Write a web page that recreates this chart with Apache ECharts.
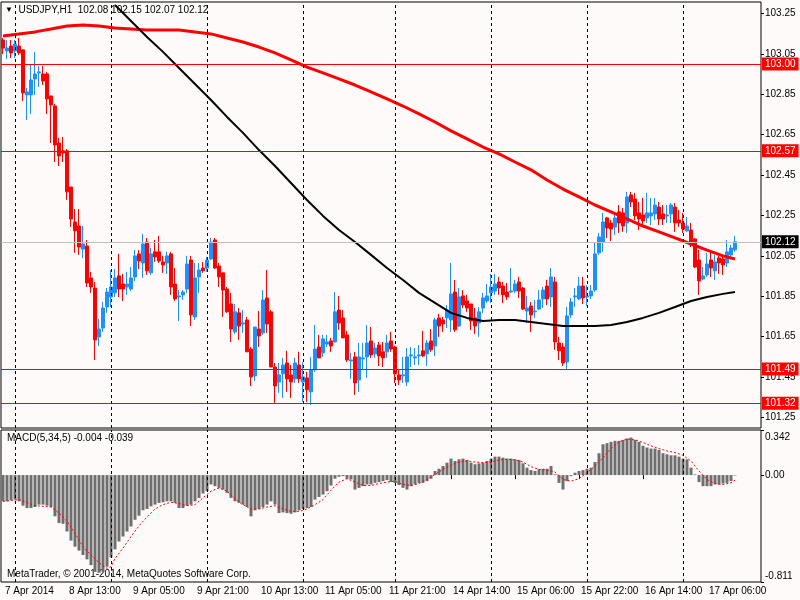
<!DOCTYPE html>
<html>
<head>
<meta charset="utf-8">
<title>USDJPY,H1</title>
<script src="https://cdn.jsdelivr.net/npm/echarts@6/dist/echarts.min.js"></script>
<style>
  html, body { margin: 0; padding: 0; background: #fffafa; }
  #chart { width: 800px; height: 600px; }
</style>
</head>
<body>
<div id="chart"></div>
<script>
// ==============================
// data
// ==============================

// hourly bars: 7 Apr 21:00 .. 17 Apr 13:00, plus empty slots for the chart shift
const barTimes = [];
(function () {
  const pad = n => (n < 10 ? '0' : '') + n;
  let day = 7, hour = 21;
  for (let i = 0; i < 190; i++) {
    barTimes.push(day + ' Apr ' + pad(hour) + ':00');
    hour++;
    if (day === 11 && hour === 23) { day = 14; hour = 0; }   // weekend gap
    else if (hour === 24) { hour = 0; day++; }
  }
})();

const timeTickBars = [0, 16, 32, 48, 64, 80, 96, 112, 128, 144, 160, 176];
const timeTickLabels = ['7 Apr 2014', '8 Apr 13:00', '9 Apr 05:00', '9 Apr 21:00', '10 Apr 13:00',
  '11 Apr 05:00', '11 Apr 21:00', '14 Apr 14:00', '15 Apr 06:00', '15 Apr 22:00', '16 Apr 14:00', '17 Apr 06:00'];
const dayStarts = ['8 Apr 00:00', '9 Apr 00:00', '10 Apr 00:00', '11 Apr 00:00',
  '14 Apr 00:00', '15 Apr 00:00', '16 Apr 00:00', '17 Apr 00:00'];

const priceTicks = [103.25, 103.05, 102.85, 102.65, 102.45, 102.25, 102.05, 101.85, 101.65, 101.45, 101.25];
const levelLines = [103.00, 102.57, 101.49, 101.32];
const lastPrice = 102.12;
const macdTicks = [0.342, 0, -0.811];

// [open, close, low, high]
const ohlc = [
  [103.119,103.079,103.050,103.129],[103.065,103.079,103.025,103.119],[103.089,103.055,103.030,103.119],
  [103.065,103.099,103.030,103.119],[103.089,103.055,103.045,103.129],[103.070,102.857,102.817,103.070],
  [102.847,102.862,102.723,102.881],[102.847,102.921,102.753,103.000],[102.926,102.951,102.847,103.060],
  [102.956,102.961,102.886,102.990],
  [102.951,102.916,102.896,102.990],[102.951,102.827,102.753,102.961],[102.842,102.797,102.609,102.842],
  [102.792,102.599,102.515,102.802],[102.609,102.545,102.495,102.634],[102.570,102.560,102.515,102.639],
  [102.570,102.367,102.327,102.579],[102.391,102.233,102.193,102.391],[102.218,102.174,102.065,102.282],
  [102.198,102.094,102.055,102.282],
  [102.084,102.109,102.040,102.198],[102.099,101.916,101.896,102.129],[101.941,101.896,101.867,101.971],
  [101.891,101.634,101.535,101.921],[101.649,101.688,101.604,101.738],[101.693,101.792,101.674,101.822],
  [101.797,101.871,101.768,101.891],[101.847,101.896,101.797,101.980],[101.867,101.941,101.847,101.985],
  [101.951,101.886,101.847,102.060],
  [101.911,101.886,101.827,101.961],[101.896,101.911,101.857,101.971],[101.886,101.941,101.876,101.995],
  [101.946,102.050,101.926,102.079],[102.060,102.025,101.985,102.079],[102.015,102.109,101.941,102.159],
  [102.119,101.976,101.956,102.139],[101.966,102.060,101.956,102.089],[102.070,102.045,102.020,102.129],
  [102.070,102.025,102.015,102.149],
  [102.020,102.005,101.966,102.050],[102.015,102.050,101.961,102.070],[102.060,101.896,101.857,102.070],
  [101.911,101.837,101.827,101.990],[101.847,101.852,101.728,101.881],[101.857,101.871,101.832,101.881],
  [101.886,102.010,101.867,102.050],[102.030,101.758,101.703,102.050],[101.748,101.941,101.733,102.015],
  [101.946,101.980,101.867,102.015],
  [101.990,101.976,101.966,102.020],[101.990,102.030,101.971,102.045],[102.035,102.119,102.030,102.139],
  [102.129,101.990,101.985,102.139],[102.000,101.946,101.896,102.015],[101.966,101.881,101.748,101.966],
  [101.886,101.773,101.768,101.896],[101.812,101.688,101.624,101.867],[101.674,101.773,101.664,101.812],
  [101.768,101.703,101.634,101.792],
  [101.713,101.718,101.669,101.782],[101.733,101.575,101.575,101.748],[101.589,101.451,101.406,101.599],
  [101.456,101.698,101.431,101.698],[101.688,101.654,101.599,101.777],[101.669,101.832,101.659,101.881],
  [101.842,101.713,101.669,101.980],[101.773,101.500,101.500,101.782],[101.500,101.406,101.322,101.520],
  [101.426,101.461,101.372,101.520],
  [101.466,101.510,101.347,101.545],[101.520,101.441,101.377,101.580],[101.461,101.426,101.347,101.510],
  [101.441,101.520,101.421,101.545],[101.510,101.441,101.421,101.575],[101.426,101.451,101.327,101.525],
  [101.446,101.387,101.327,101.476],[101.377,101.486,101.312,101.550],[101.486,101.589,101.476,101.708],
  [101.599,101.545,101.545,101.659],
  [101.570,101.639,101.550,101.659],[101.614,101.624,101.599,101.659],[101.629,101.604,101.575,101.644],
  [101.624,101.773,101.624,101.871],[101.782,101.718,101.684,101.852],[101.743,101.644,101.644,101.782],
  [101.659,101.535,101.525,101.679],[101.530,101.535,101.441,101.570],[101.550,101.421,101.362,101.575],
  [101.436,101.550,101.377,101.619],
  [101.540,101.545,101.486,101.619],[101.550,101.619,101.446,101.708],[101.629,101.560,101.545,101.698],
  [101.565,101.594,101.545,101.619],[101.609,101.555,101.505,101.624],[101.575,101.545,101.500,101.624],
  [101.575,101.619,101.545,101.659],[101.629,101.589,101.575,101.674],[101.599,101.466,101.421,101.604],
  [101.461,101.436,101.411,101.486],
  [101.456,101.461,101.421,101.550],[101.426,101.550,101.406,101.594],[101.555,101.560,101.500,101.599],
  [101.545,101.550,101.510,101.594],[101.555,101.560,101.510,101.609],[101.580,101.555,101.550,101.679],
  [101.565,101.619,101.505,101.634],[101.629,101.585,101.575,101.688],[101.604,101.733,101.555,101.743],
  [101.743,101.703,101.649,101.763],
  [101.733,101.713,101.674,101.748],[101.743,101.782,101.693,101.807],[101.733,101.862,101.674,102.015],
  [101.871,101.684,101.674,101.931],[101.703,101.847,101.698,101.891],[101.852,101.807,101.792,101.881],
  [101.827,101.792,101.773,101.857],[101.812,101.728,101.684,101.812],[101.743,101.703,101.664,101.792],
  [101.718,101.773,101.649,101.797],
  [101.792,101.842,101.768,101.867],[101.827,101.852,101.817,101.911],[101.867,101.896,101.817,101.961],
  [101.876,101.911,101.857,101.961],[101.921,101.891,101.857,101.946],[101.901,101.857,101.817,101.921],
  [101.871,101.847,101.832,101.916],[101.871,101.876,101.867,101.990],[101.876,101.911,101.867,101.931],
  [101.921,101.876,101.842,101.946],
  [101.891,101.787,101.782,101.896],[101.777,101.792,101.718,101.852],[101.802,101.758,101.674,101.822],
  [101.773,101.777,101.743,101.832],[101.787,101.832,101.782,101.881],[101.837,101.881,101.792,101.896],
  [101.901,101.837,101.807,101.931],[101.847,101.946,101.797,101.990],[101.921,101.624,101.585,101.946],
  [101.619,101.580,101.535,101.649],
  [101.599,101.520,101.505,101.619],[101.525,101.753,101.486,101.797],[101.758,101.822,101.743,101.842],
  [101.847,101.852,101.797,101.891],[101.837,101.901,101.832,101.946],[101.901,101.842,101.812,101.946],
  [101.847,101.852,101.802,101.906],[101.852,101.876,101.837,101.906],[101.881,102.060,101.871,102.119],
  [102.065,102.144,102.055,102.164],
  [102.119,102.218,102.070,102.263],[102.238,102.188,102.139,102.243],[102.213,102.183,102.124,102.228],
  [102.193,102.238,102.154,102.263],[102.268,102.213,102.164,102.302],[102.263,102.198,102.169,102.287],
  [102.213,102.342,102.164,102.367],[102.352,102.317,102.292,102.367],[102.332,102.248,102.228,102.362],
  [102.263,102.233,102.178,102.317],
  [102.253,102.223,102.193,102.337],[102.238,102.263,102.213,102.362],[102.248,102.263,102.203,102.337],
  [102.258,102.302,102.228,102.337],[102.292,102.233,102.203,102.317],[102.258,102.233,102.203,102.302],
  [102.248,102.253,102.213,102.302],[102.258,102.302,102.213,102.312],[102.292,102.213,102.169,102.312],
  [102.228,102.213,102.193,102.277],
  [102.213,102.183,102.164,102.263],[102.174,102.198,102.169,102.243],[102.178,102.104,102.094,102.213],
  [102.134,101.995,101.990,102.139],[102.030,101.926,101.857,102.079],[101.936,101.951,101.931,101.995],
  [101.956,102.010,101.946,102.065],[102.030,101.990,101.946,102.070],[101.976,102.020,101.931,102.055],
  [102.040,102.015,101.961,102.050],
  [102.035,102.005,101.956,102.055],[102.015,102.070,101.995,102.129],[102.055,102.089,102.030,102.104],
  [102.080,102.120,102.070,102.150]
];

// moving averages, [bar, value]
const maRed = [
  [0,103.139],[4,103.149],[8,103.159],[12,103.173],[16,103.188],[20,103.193],[24,103.188],[28,103.178],
  [32,103.173],[36,103.168],[40,103.168],[44,103.168],[48,103.159],[52,103.149],[56,103.129],[60,103.109],
  [64,103.084],[68,103.055],[72,103.020],[76,102.985],[80,102.956],[84,102.926],[88,102.896],[92,102.862],
  [96,102.827],[100,102.792],[104,102.753],[108,102.713],[112,102.669],[116,102.629],[120,102.589],
  [124,102.555],[128,102.515],[132,102.476],[136,102.426],[140,102.381],[144,102.342],[148,102.302],
  [152,102.268],[156,102.233],[160,102.198],[164,102.169],[168,102.139],[172,102.109],[176,102.079],
  [180,102.050],[183,102.035]
];
const maBlack = [
  [28,103.292],[32,103.213],[36,103.134],[40,103.060],[44,102.980],[48,102.901],[52,102.822],[56,102.738],
  [60,102.659],[64,102.574],[68,102.495],[72,102.411],[76,102.327],[80,102.248],[84,102.178],[88,102.119],
  [92,102.055],[96,101.990],[100,101.931],[104,101.867],[108,101.817],[112,101.768],[116,101.743],
  [120,101.728],[124,101.733],[128,101.733],[132,101.723],[136,101.713],[140,101.703],[144,101.703],
  [148,101.703],[152,101.708],[156,101.723],[160,101.743],[164,101.768],[168,101.797],[172,101.827],
  [176,101.847],[180,101.862],[183,101.871]
];

// MACD(5,34,5) histogram, one per bar
const macdHist = [
  -0.199,-0.199,-0.191,-0.186,-0.199,-0.232,-0.250,-0.250,-0.242,-0.224,
  -0.224,-0.232,-0.242,-0.313,-0.364,-0.369,-0.428,-0.497,-0.543,-0.573,
  -0.606,-0.639,-0.683,-0.734,-0.741,-0.734,-0.695,-0.624,-0.563,-0.504,
  -0.466,-0.428,-0.390,-0.339,-0.308,-0.267,-0.257,-0.237,-0.224,-0.211,
  -0.206,-0.199,-0.199,-0.211,-0.250,-0.250,-0.232,-0.224,-0.199,-0.173,
  -0.140,-0.122,-0.071,-0.084,-0.097,-0.110,-0.135,-0.173,-0.199,-0.211,
  -0.224,-0.242,-0.313,-0.267,-0.257,-0.242,-0.224,-0.199,-0.224,-0.288,
  -0.283,-0.288,-0.293,-0.283,-0.267,-0.257,-0.250,-0.242,-0.186,-0.166,
  -0.148,-0.122,-0.079,-0.028,-0.013,-0.008,-0.028,-0.033,-0.110,-0.097,
  -0.084,-0.071,-0.071,-0.059,-0.053,-0.046,-0.038,-0.053,-0.060,-0.075,
  -0.097,-0.110,-0.084,-0.071,-0.059,-0.059,-0.046,-0.028,0.031,0.048,
  0.069,0.094,0.125,0.107,0.120,0.125,0.115,0.094,0.082,0.089,
  0.094,0.107,0.125,0.140,0.140,0.132,0.125,0.125,0.120,0.115,
  0.089,0.056,0.038,0.031,0.043,0.048,0.048,0.069,0.005,-0.059,
  -0.110,-0.046,-0.008,0.018,0.031,0.038,0.048,0.056,0.099,0.166,
  0.234,0.242,0.252,0.260,0.260,0.267,0.278,0.285,0.267,0.252,
  0.222,0.209,0.201,0.201,0.191,0.166,0.158,0.150,0.150,0.140,
  0.125,0.120,0.056,0.005,-0.053,-0.084,-0.084,-0.084,-0.071,-0.071,
  -0.064,-0.059,-0.046,-0.004
];
// signal line, [bar, value]
const macdSignal = [
  [0,-0.199],[4,-0.186],[8,-0.232],[12,-0.242],[14,-0.288],[16,-0.351],[18,-0.441],[20,-0.543],
  [22,-0.606],[24,-0.665],[26,-0.708],[27,-0.695],[28,-0.632],[30,-0.555],[32,-0.466],[34,-0.385],
  [36,-0.318],[38,-0.257],[40,-0.224],[42,-0.206],[44,-0.216],[46,-0.232],[48,-0.224],[50,-0.173],
  [52,-0.122],[54,-0.097],[56,-0.122],[58,-0.181],[60,-0.224],[62,-0.257],[64,-0.257],[66,-0.242],
  [68,-0.232],[70,-0.257],[72,-0.275],[74,-0.275],[76,-0.257],[78,-0.224],[80,-0.186],[82,-0.115],
  [84,-0.053],[86,-0.028],[88,-0.053],[90,-0.079],[92,-0.079],[94,-0.064],[96,-0.053],[98,-0.046],
  [100,-0.071],[102,-0.079],[104,-0.064],[106,-0.033],[108,0.005],[110,0.043],[112,0.074],[114,0.099],
  [116,0.107],[118,0.099],[120,0.094],[122,0.099],[124,0.115],[126,0.120],[128,0.115],[130,0.099],
  [132,0.064],[134,0.043],[136,0.038],[138,0.023],[140,-0.033],[142,-0.046],[144,-0.028],[146,0.018],
  [148,0.069],[150,0.132],[152,0.201],[154,0.252],[156,0.273],[158,0.267],[160,0.247],[162,0.222],
  [164,0.201],[166,0.183],[168,0.171],[170,0.150],[172,0.107],[174,0.031],[176,-0.033],[178,-0.064],
  [180,-0.071],[182,-0.059],[183,-0.039]
];

// ==============================
// chart
// ==============================

const FONT = 'Liberation Sans';
const chart = echarts.init(document.getElementById('chart'));

const separatorLines = {
  silent: true, symbol: ['none', 'none'], animation: false,
  lineStyle: { color: '#000', type: [3, 3], width: 1 },
  label: { show: false },
  data: dayStarts.map(d => ({ xAxis: d }))
};

const tagLabel = {
  show: true, position: 'end', distance: 1,
  formatter: p => Number(p.value).toFixed(2),
  color: '#fff', fontFamily: FONT, fontSize: 10, padding: [2, 3, 1, 3]
};

// horizontal levels (red) and the last price (grey, black tag)
const levelMarks = levelLines.map(v => ({
  yAxis: v,
  lineStyle: { color: '#ff0000', type: 'solid', width: 1 },
  label: { backgroundColor: '#ff0000' }
}));
levelMarks.push({
  yAxis: lastPrice,
  lineStyle: { color: '#c0c0c0', type: 'solid', width: 1 },
  label: { backgroundColor: '#000' }
});

chart.setOption({
  animation: false,
  backgroundColor: '#fffafa',
  grid: [
    { left: 1, top: 2, width: 760, height: 426, show: true, borderColor: '#000', borderWidth: 1 },
    { left: 1, top: 430, width: 760, height: 152, show: true, borderColor: '#000', borderWidth: 1 }
  ],
  xAxis: [
    {
      gridIndex: 0, type: 'category', data: barTimes, boundaryGap: true,
      axisLine: { show: false }, axisTick: { show: false },
      axisLabel: { show: false }, splitLine: { show: false }
    },
    {
      gridIndex: 1, type: 'category', data: barTimes, boundaryGap: true,
      axisLine: { show: false },
      axisTick: {
        show: true, alignWithLabel: true, length: 4,
        interval: idx => timeTickBars.includes(idx),
        lineStyle: { color: '#000' }
      },
      axisLabel: {
        interval: idx => timeTickBars.includes(idx),
        formatter: (v, idx) => timeTickLabels[timeTickBars.indexOf(idx)],
        align: 'left', margin: 4, padding: [0, 0, 0, 2],
        color: '#000', fontFamily: FONT, fontSize: 10
      },
      splitLine: { show: false }
    }
  ],
  yAxis: [
    {
      gridIndex: 0, type: 'value', position: 'right', min: 101.198, max: 103.307,
      axisLine: { show: false }, splitLine: { show: false },
      axisTick: { show: true, customValues: priceTicks, length: 3, lineStyle: { color: '#000' } },
      axisLabel: {
        customValues: priceTicks, formatter: v => v.toFixed(2),
        color: '#000', fontFamily: FONT, fontSize: 10, margin: 4
      }
    },
    {
      gridIndex: 1, type: 'value', position: 'right', min: -0.811, max: 0.342,
      axisLine: { show: false }, splitLine: { show: false },
      axisTick: { show: true, customValues: macdTicks, length: 3, lineStyle: { color: '#000' } },
      axisLabel: {
        customValues: macdTicks,
        formatter: v => (v === 0 ? '{m|0.00}' : v > 0 ? '{hi|' + v.toFixed(3) + '}' : '{lo|' + v.toFixed(3) + '}'),
        rich: {
          m: { fontFamily: FONT, fontSize: 10, color: '#000' },
          hi: { fontFamily: FONT, fontSize: 10, color: '#000', padding: [14, 0, 0, 0] },
          lo: { fontFamily: FONT, fontSize: 10, color: '#000', padding: [0, 0, 12, 0] }
        },
        color: '#000', fontFamily: FONT, fontSize: 10, margin: 4
      }
    }
  ],
  graphic: [
    {
      type: 'text', left: 5, top: 5,
      style: {
        text: '{t|▼}  USDJPY,H1  102.08 102.15 102.07 102.12',
        font: '10px "' + FONT + '"', fill: '#000',
        rich: { t: { fontSize: 8, fill: '#000' } }
      }
    },
    {
      type: 'text', left: 7, top: 433,
      style: { text: 'MACD(5,34,5) -0.004 -0.039', font: '10px "' + FONT + '"', fill: '#000' }
    },
    {
      type: 'text', left: 7, top: 569,
      style: { text: 'MetaTrader, © 2001-2014, MetaQuotes Software Corp.', font: '10px "' + FONT + '"', fill: '#000' }
    }
  ],
  series: [
    {
      name: 'USDJPY', type: 'candlestick', xAxisIndex: 0, yAxisIndex: 0,
      data: ohlc, barWidth: 3,
      itemStyle: {
        color: '#1e90ff', color0: '#ff0000',
        borderColor: '#1e90ff', borderColor0: '#ff0000', borderWidth: 1
      }
    },
    {
      name: 'MA red', type: 'line', xAxisIndex: 0, yAxisIndex: 0,
      data: maRed, showSymbol: false, smooth: false, z: 3,
      lineStyle: { color: '#ff0000', width: 3 },
      markLine: {
        silent: true, symbol: ['none', 'none'], animation: false,
        label: tagLabel,
        data: levelMarks
      }
    },
    {
      name: 'MA black', type: 'line', xAxisIndex: 0, yAxisIndex: 0,
      data: maBlack, showSymbol: false, smooth: false, z: 3,
      lineStyle: { color: '#000', width: 2 },
      markLine: separatorLines
    },
    {
      name: 'MACD', type: 'bar', xAxisIndex: 1, yAxisIndex: 1,
      data: macdHist, barWidth: 3,
      itemStyle: { color: '#6e6e6e' },
      markLine: separatorLines
    },
    {
      name: 'Signal', type: 'line', xAxisIndex: 1, yAxisIndex: 1,
      data: macdSignal, showSymbol: false, z: 3,
      lineStyle: { color: '#ff0000', width: 1, type: [2, 2] }
    }
  ]
});

window.addEventListener('resize', () => chart.resize());
</script>
</body>
</html>
